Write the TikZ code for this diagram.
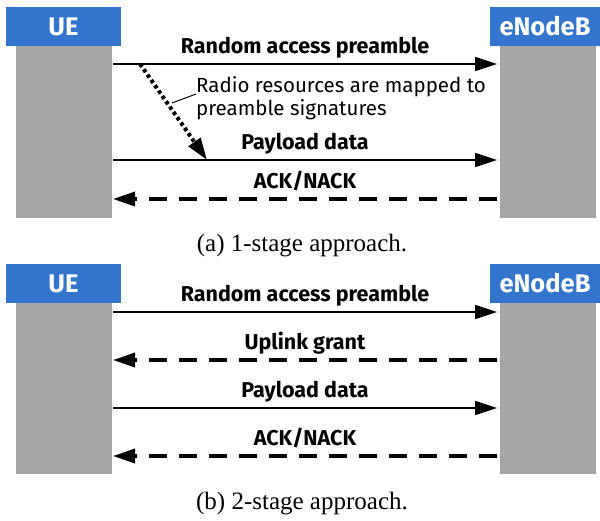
\documentclass[tikz,border=0pt]{standalone}
\usepackage{fontspec}
\setmainfont{Liberation Serif}
\newfontfamily\labelfont{Fira Sans}
\usetikzlibrary{arrows.meta}
\definecolor{hdrblue}{HTML}{3375CC}
\definecolor{bodygray}{HTML}{A6A6A6}
\begin{document}
\begin{tikzpicture}[x=1pt,y=-1pt,
  header/.style={fill=hdrblue,draw=none,minimum width=115pt,minimum height=39pt,
    inner sep=0pt,text=white,font=\labelfont\bfseries\fontsize{25.5}{28}\selectfont},
  lifeline/.style={fill=bodygray,draw=none,minimum width=96pt,minimum height=172pt,inner sep=0pt},
  msglabel/.style={anchor=base,inner sep=0pt,font=\labelfont\bfseries\fontsize{21.5}{24}\selectfont},
  tip/.style={-{Triangle[length=22pt,width=14pt]}},
  solidmsg/.style={tip,line width=2pt},
  dashmsg/.style={tip,line width=3.5pt,dash pattern=on 18pt off 12pt},
  caption/.style={anchor=base,inner sep=0pt,font=\fontsize{25}{28}\selectfont}
]
\useasboundingbox (0,0) rectangle (600,520);

% ---------- (a) one-stage procedure ----------
\node[lifeline] (ueA) at (64,132) {};
\node[lifeline] (enbA) at (548,132) {};
\node[header] (ueAh) at (63.5,26.5) {UE};
\node[header,minimum width=110pt] (enbAh) at (545,26.5) {eNodeB};

\coordinate (a1l) at (113,64);  \coordinate (a1r) at (497,64);
\coordinate (a2l) at (113,160); \coordinate (a2r) at (497,160);
\coordinate (a3l) at (113,199); \coordinate (a3r) at (497,199);

\draw[solidmsg] (a1l) -- (a1r);
\node[msglabel] (a1t) at (305,53) {Random access preamble};
\draw[solidmsg] (a2l) -- (a2r);
\node[msglabel] (a2t) at (305,149) {Payload data};
\draw[dashmsg] (a3r) -- (a3l);
\node[msglabel] (a3t) at (305,188) {ACK/NACK};

% mapping of radio resources onto preamble signatures
\coordinate (dotS) at (140,64);
\coordinate (dotE) at (207,160);
\draw[-{Triangle[length=22pt,width=14pt]},line width=4pt,
  dash pattern=on 3.5pt off 3pt] (dotS) -- (dotE);
\node[anchor=base west,inner sep=0pt,
  font=\labelfont\fontsize{20.5}{23}\selectfont] (note1) at (196,92)
  {Radio resources are mapped to};
\node[anchor=base west,inner sep=0pt,
  font=\labelfont\fontsize{20.5}{23}\selectfont] (note2) at (196,115)
  {preamble signatures};
\coordinate (noteL) at (196,94);
\coordinate (noteA) at (172,103);
\draw[line width=1pt] (noteA) -- (noteL);

\node[caption] (capA) at (302,251) {(a) 1-stage approach.};

% ---------- (b) two-stage procedure ----------
\node[lifeline,minimum height=171pt] (ueB) at (64,388.5) {};
\node[lifeline,minimum height=171pt] (enbB) at (548,388.5) {};
\node[header] (ueBh) at (63.5,283.5) {UE};
\node[header,minimum width=110pt] (enbBh) at (545,283.5) {eNodeB};

\coordinate (b1l) at (113,312); \coordinate (b1r) at (497,312);
\coordinate (b2l) at (113,360); \coordinate (b2r) at (497,360);
\coordinate (b3l) at (113,408); \coordinate (b3r) at (497,408);
\coordinate (b4l) at (113,456); \coordinate (b4r) at (497,456);

\draw[solidmsg] (b1l) -- (b1r);
\node[msglabel] (b1t) at (305,301) {Random access preamble};
\draw[dashmsg] (b2r) -- (b2l);
\node[msglabel] (b2t) at (305,349) {Uplink grant};
\draw[solidmsg] (b3l) -- (b3r);
\node[msglabel] (b3t) at (305,397) {Payload data};
\draw[dashmsg] (b4r) -- (b4l);
\node[msglabel] (b4t) at (305,445) {ACK/NACK};

\node[caption] (capB) at (302,509) {(b) 2-stage approach.};
\end{tikzpicture}
\end{document}
